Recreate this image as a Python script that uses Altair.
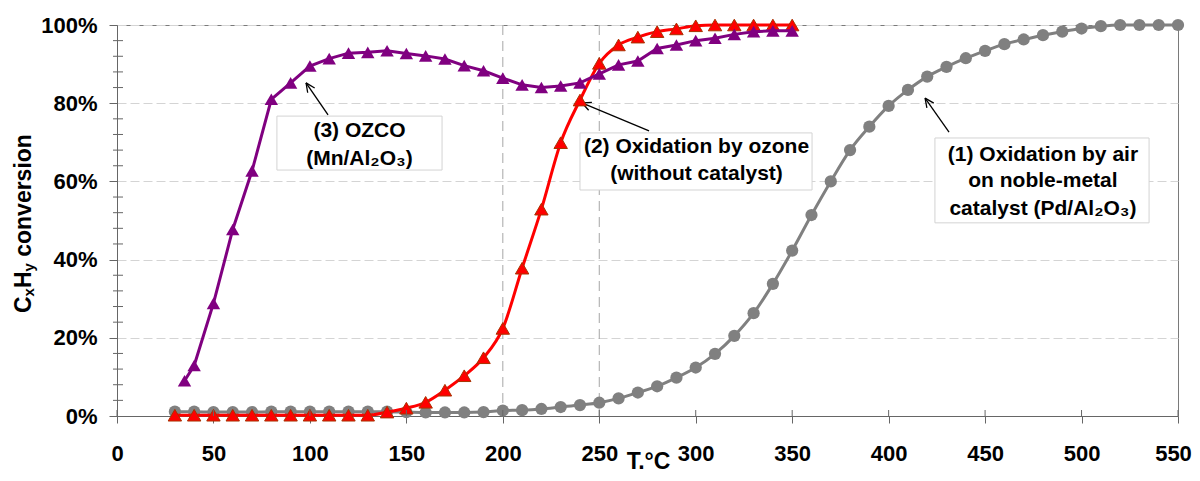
import math
import altair as alt
import pandas as pd

# ---------------- data ----------------
T_air = [30, 40, 50, 60, 70, 80, 90, 100, 110, 120, 130, 140, 150, 160, 170, 180, 190, 200,
         210, 220, 230, 240, 250, 260, 270, 280, 290, 300, 310, 320, 330, 340, 350, 360, 370,
         380, 390, 400, 410, 420, 430, 440, 450, 460, 470, 480, 490, 500, 510, 520, 530, 540, 550]
P_air = [1.1, 1.1, 1.0, 1.0, 1.0, 1.1, 1.1, 1.1, 1.1, 1.1, 1.1, 1.1, 1.0, 0.9, 0.9, 0.9, 1.0, 1.4,
         1.5, 1.8, 2.3, 2.8, 3.4, 4.5, 6.0, 7.6, 9.8, 12.4, 15.9, 20.5, 26.3, 33.8, 42.3, 51.4, 60.0,
         68.0, 74.0, 79.3, 83.4, 86.8, 89.3, 91.5, 93.4, 95.1, 96.3, 97.4, 98.3, 99.1, 99.7, 100, 100, 100, 100]

T_ozone = [30, 40, 50, 60, 70, 80, 90, 100, 110, 120, 130, 140, 150, 160, 170, 180, 190, 200,
           210, 220, 230, 240, 250, 260, 270, 280, 290, 300, 310, 320, 330, 340, 350]
P_ozone = [0.2, 0.2, 0.2, 0.2, 0.2, 0.2, 0.2, 0.2, 0.2, 0.2, 0.2, 1.0, 2.0, 3.5, 6.6, 10.3, 14.9, 22.4,
           37.8, 52.9, 69.9, 80.8, 90.2, 94.9, 96.9, 98.3, 99.0, 99.8, 100, 100, 100, 100, 100]

T_ozco = [35, 40, 50, 60, 70, 80, 90, 100, 110, 120, 130, 140, 150, 160, 170, 180, 190, 200,
          210, 220, 230, 240, 250, 260, 270, 280, 290, 300, 310, 320, 330, 340, 350]
P_ozco = [9.0, 12.9, 28.8, 47.7, 62.7, 81.0, 85.2, 89.5, 91.4, 92.8, 93.0, 93.4, 92.7, 92.1, 91.3, 89.6,
          88.3, 86.4, 84.7, 84.0, 84.4, 85.2, 87.5, 89.8, 90.8, 94.0, 94.9, 96.0, 96.6, 97.6, 98.3, 98.5, 98.5]

x_ticks = [0, 50, 100, 150, 200, 250, 300, 350, 400, 450, 500, 550]
y_ticks = [0, 20, 40, 60, 80, 100]
y_minor = [4, 8, 12, 16, 24, 28, 32, 36, 44, 48, 52, 56, 64, 68, 72, 76, 84, 88, 92, 96]
v_guides = [200, 250]

# annotation texts (label, T, P)
note_labels = ["(3) OZCO", "(Mn/Al₂O₃)",
               "(2) Oxidation by ozone", "(without catalyst)",
               "(1) Oxidation by air", "on noble-metal", "catalyst (Pd/Al₂O₃)"]
note_T = [125.7, 125.7, 300.4, 300.4, 480.0, 480.0, 480.0]
note_P = [72.8, 65.7, 68.7, 61.9, 66.8, 60.1, 52.9]

# annotation boxes
box_T1 = [82.9, 240.0, 424.0]
box_T2 = [168.5, 360.3, 535.0]
box_P1 = [76.7, 72.4, 71.1]
box_P2 = [62.9, 57.8, 49.4]

# arrows: tail -> tip
arr_tail_T = [109.4, 275.8, 431.3]
arr_tail_P = [77.0, 72.9, 72.6]
arr_tip_T = [98.0, 241.0, 418.9]
arr_tip_P = [85.2, 80.1, 81.3]

# ---------------- layout ----------------
W, H = 1061, 391
PXT = W / 550.0
PXP = H / 100.0
FONT = "Liberation Sans"
AXC = "#666666"

xs = alt.Scale(domain=[0, 550], nice=False, zero=False)
ys = alt.Scale(domain=[0, 100], nice=False)

xaxis = alt.Axis(values=x_ticks, title=None, grid=False, labelFont=FONT, labelFontSize=22,
                 labelFontWeight="bold", labelColor="black", labelPadding=20, labelFlush=False,
                 labelOverlap=False, tickSize=7, tickColor=AXC, domainColor=AXC, tickWidth=1,
                 labelOffset=alt.ExprRef("datum.value == 550 ? -5 : 0"))
yaxis = alt.Axis(values=y_ticks, title=None, grid=True, gridColor="#d4d4d4", gridDash=[9, 4],
                 labelExpr="datum.value + '%'", labelFont=FONT, labelFontSize=22,
                 labelFontWeight="bold", labelColor="black", labelPadding=12, tickSize=8,
                 tickColor=AXC, domainColor=AXC, tickWidth=1, labelOverlap=False)


def X(f):
    return alt.X(f, type="quantitative", scale=xs, axis=xaxis)


def Y(f):
    return alt.Y(f, type="quantitative", scale=ys, axis=yaxis)


# arrow geometry (shafts + open heads)
seg = {"T": [], "P": [], "T2": [], "P2": []}
for i in range(len(arr_tip_T)):
    t0, p0, t1, p1 = arr_tail_T[i], arr_tail_P[i], arr_tip_T[i], arr_tip_P[i]
    seg["T"].append(t0); seg["P"].append(p0); seg["T2"].append(t1); seg["P2"].append(p1)
    dx = (t1 - t0) * PXT
    dy = -(p1 - p0) * PXP
    L = math.hypot(dx, dy)
    ux, uy = -dx / L, -dy / L
    for a in (math.radians(25), -math.radians(25)):
        rx = ux * math.cos(a) - uy * math.sin(a)
        ry = ux * math.sin(a) + uy * math.cos(a)
        hx, hy = rx * 10, ry * 10
        seg["T"].append(t1); seg["P"].append(p1)
        seg["T2"].append(t1 + hx / PXT); seg["P2"].append(p1 - hy / PXP)
df_arrows = pd.DataFrame(seg)

df_air = pd.DataFrame({"T": T_air, "P": P_air})
df_ozone = pd.DataFrame({"T": T_ozone, "P": P_ozone})
df_ozco = pd.DataFrame({"T": T_ozco, "P": P_ozco})
df_boxes = pd.DataFrame({"T1": box_T1, "T2": box_T2, "P1": box_P1, "P2": box_P2})
df_notes = pd.DataFrame({"label": note_labels, "T": note_T, "P": note_P})

guides = alt.Chart(pd.DataFrame({"T": v_guides})).mark_rule(
    color="#a6a6a6", strokeDash=[10, 6], strokeWidth=1).encode(x=X("T"))

boxes = alt.Chart(df_boxes).mark_rect(fill="white", stroke="#d3d3d3", strokeWidth=1).encode(
    x=X("T1"), x2="T2", y=Y("P1"), y2="P2")

arrows = alt.Chart(df_arrows).mark_rule(color="black", strokeWidth=1.3).encode(
    x=X("T"), x2="T2", y=Y("P"), y2="P2")

air_line = alt.Chart(df_air).mark_line(color="#808080", strokeWidth=3, interpolate="monotone").encode(
    x=X("T"), y=Y("P"))
air_pts = alt.Chart(df_air).mark_point(shape="circle", filled=True, size=150, color="#808080",
                                       opacity=1).encode(x=X("T"), y=Y("P"))

oz_line = alt.Chart(df_ozone).mark_line(color="#ff0000", strokeWidth=3, interpolate="monotone").encode(
    x=X("T"), y=Y("P"))
oz_pts = alt.Chart(df_ozone).mark_point(shape="triangle-up", filled=True, size=180, fill="#ff0000",
                                        stroke="#a83200", strokeWidth=1, opacity=1).encode(
    x=X("T"), y=Y("P"))

ozco_line = alt.Chart(df_ozco).mark_line(color="#800080", strokeWidth=3).encode(x=X("T"), y=Y("P"))
ozco_pts = alt.Chart(df_ozco).mark_point(shape="triangle-up", filled=True, size=180, color="#800080",
                                         opacity=1).encode(x=X("T"), y=Y("P"))

minor_y = alt.Chart(pd.DataFrame({"P": y_minor})).mark_rule(color=AXC, strokeWidth=1).encode(
    y=Y("P"), x=alt.value(-4), x2=alt.value(6))
inner_x = alt.Chart(pd.DataFrame({"T": x_ticks})).mark_rule(color=AXC, strokeWidth=1).encode(
    x=X("T"), y=alt.value(H - 6), y2=alt.value(H))

notes = alt.Chart(df_notes).mark_text(font=FONT, fontSize=21, fontWeight="bold", color="black",
                                      align="center", baseline="middle").encode(
    x=X("T"), y=Y("P"), text="label:N")


def piece(txt, x, y, size, angle=None, align="left"):
    kw = dict(font=FONT, fontSize=size, fontWeight="bold", color="black", align=align,
              baseline="alphabetic")
    if angle is not None:
        kw["angle"] = angle
    return alt.Chart(pd.DataFrame({"t": [txt]})).mark_text(**kw).encode(
        text="t:N", x=alt.value(x), y=alt.value(y))


ytitle = [
    piece("C", -86, 288, 23, 270),
    piece("x", -83, 271.4, 15, 270),
    piece("H", -86, 263.1, 23, 270),
    piece("y", -83, 246.5, 15, 270),
    piece("conversion", -86, 231.8, 23, 270),
]
xtitle = piece("T.°C", 531.5, 444, 23, None, "center")

chart = alt.layer(
    guides, boxes, arrows,
    air_line, air_pts, oz_line, oz_pts, ozco_line, ozco_pts,
    minor_y, inner_x, notes, *ytitle, xtitle
).properties(
    width=W, height=H,
    padding={"left": 109, "top": 17, "right": 14, "bottom": 60},
    autosize=alt.AutoSizeParams(type="none"),
).configure_view(stroke="#7a7a7a", strokeWidth=1)

chart.save("out.html", embed_options={"renderer": "svg", "actions": False})
